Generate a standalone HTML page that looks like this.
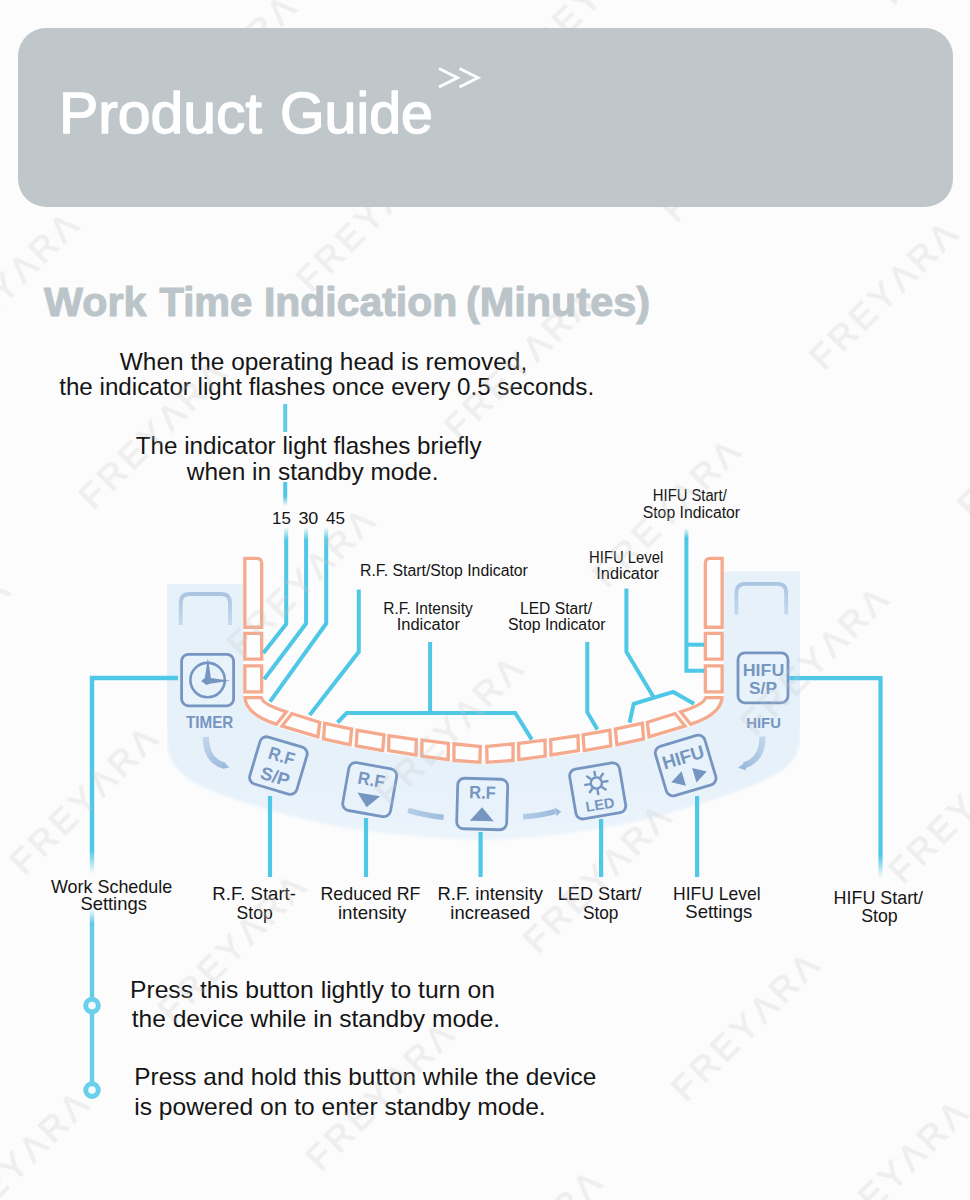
<!DOCTYPE html>
<html><head><meta charset="utf-8"><title>Product Guide</title>
<style>
html,body{margin:0;padding:0;background:#fcfcfc;}
svg{display:block}
text{font-family:"Liberation Sans",sans-serif;}
</style></head><body>
<svg width="970" height="1200" viewBox="0 0 970 1200">
<defs>
<filter id="blur" x="-10%" y="-10%" width="120%" height="120%"><feGaussianBlur stdDeviation="1.6"/></filter>
<clipPath id="pclip"><path d="M167,584 H253 V571.5 H800 V900 H167 Z"/></clipPath>
<linearGradient id="pg" gradientUnits="userSpaceOnUse" x1="0" y1="770" x2="0" y2="845"><stop offset="0" stop-color="#e6f1fa"/><stop offset="1" stop-color="#ecf4fb"/></linearGradient>
<clipPath id="b1"><path d="M243.2,556.8 H256.8 Q263.3,556.8 263.3,563.3 V628.9 H243.2 Z"/></clipPath>
<clipPath id="b2"><path d="M243.2,631.7 H263.3 V660.8 H243.2 Z"/></clipPath>
<clipPath id="b3"><path d="M243.2,664.3 H263.3 V693.6 H243.2 Z"/></clipPath>
<clipPath id="b4"><path d="M723.8,556.8 H710.2 Q703.7,556.8 703.7,563.3 V628.9 H723.8 Z"/></clipPath>
<clipPath id="b5"><path d="M703.7,631.7 H723.8 V660.8 H703.7 Z"/></clipPath>
<clipPath id="b6"><path d="M703.7,664.3 H723.8 V693.6 H703.7 Z"/></clipPath>
<clipPath id="b7"><path d="M243.2,696.0 L261.8,696.0 L263.3,697.5 Q263.3,703.0 289.1,711.0 L276.9,726.2 Q243.2,715.5 243.2,696.0 Z"/></clipPath>
<clipPath id="b8"><path d="M723.8,696.0 L705.2,696.0 L703.7,697.5 Q703.7,703.0 677.9,711.0 L690.1,726.2 Q723.8,715.5 723.8,696.0 Z"/></clipPath>
<clipPath id="b9"><path d="M291.3,711.7 L321.5,721.2 L319.3,739.0 L279.2,727.0 Z"/></clipPath>
<clipPath id="b10"><path d="M675.7,711.7 L645.5,721.2 L647.7,739.0 L687.8,727.0 Z"/></clipPath>
<clipPath id="b11"><path d="M323.1,721.2 L353.5,727.8 L351.5,746.8 L321.8,740.2 Z"/></clipPath>
<clipPath id="b12"><path d="M643.9,721.2 L613.5,727.8 L615.5,746.8 L645.2,740.2 Z"/></clipPath>
<clipPath id="b13"><path d="M355.6,728.2 L385.8,733.6 L384.2,752.6 L354.5,747.3 Z"/></clipPath>
<clipPath id="b14"><path d="M611.4,728.2 L581.2,733.6 L582.8,752.6 L612.5,747.3 Z"/></clipPath>
<clipPath id="b15"><path d="M387.4,733.8 L418.0,738.3 L417.6,756.9 L386.9,752.0 Z"/></clipPath>
<clipPath id="b16"><path d="M579.6,733.8 L549.0,738.3 L549.4,756.9 L580.1,752.0 Z"/></clipPath>
<clipPath id="b17"><path d="M420.4,738.3 L450.1,742.1 L449.8,761.4 L420.1,757.4 Z"/></clipPath>
<clipPath id="b18"><path d="M546.6,738.3 L516.9,742.1 L517.2,761.4 L546.9,757.4 Z"/></clipPath>
<clipPath id="b19"><path d="M452.3,742.1 L482.0,744.9 L481.5,764.0 L452.3,761.9 Z"/></clipPath>
<clipPath id="b20"><path d="M514.7,742.1 L485.0,744.9 L485.5,764.0 L514.7,761.9 Z"/></clipPath>
<linearGradient id="g1" gradientUnits="userSpaceOnUse" x1="0" y1="482" x2="0" y2="506"><stop offset="0" stop-color="#4fc7e6" stop-opacity="1"/><stop offset="0.6" stop-color="#4fc7e6" stop-opacity="1"/><stop offset="1" stop-color="#4fc7e6" stop-opacity="0"/></linearGradient>
<linearGradient id="g2" gradientUnits="userSpaceOnUse" x1="0" y1="527" x2="0" y2="540"><stop offset="0" stop-color="#4fc7e6" stop-opacity="0"/><stop offset="1" stop-color="#4fc7e6" stop-opacity="1"/></linearGradient>
<linearGradient id="g3" gradientUnits="userSpaceOnUse" x1="0" y1="528" x2="0" y2="538"><stop offset="0" stop-color="#4fc7e6" stop-opacity="0"/><stop offset="1" stop-color="#4fc7e6" stop-opacity="1"/></linearGradient>
<linearGradient id="g4" gradientUnits="userSpaceOnUse" x1="0" y1="850" x2="0" y2="874"><stop offset="0" stop-color="#4fc7e6" stop-opacity="1"/><stop offset="1" stop-color="#4fc7e6" stop-opacity="0"/></linearGradient>
<linearGradient id="g5" gradientUnits="userSpaceOnUse" x1="0" y1="908" x2="0" y2="925"><stop offset="0" stop-color="#4fc7e6" stop-opacity="0"/><stop offset="1" stop-color="#4fc7e6" stop-opacity="1"/></linearGradient>
<linearGradient id="g6" gradientUnits="userSpaceOnUse" x1="0" y1="855" x2="0" y2="878"><stop offset="0" stop-color="#4fc7e6" stop-opacity="1"/><stop offset="1" stop-color="#4fc7e6" stop-opacity="0"/></linearGradient>
<linearGradient id="gb1" gradientUnits="userSpaceOnUse" x1="0" y1="592" x2="0" y2="626"><stop offset="0" stop-color="#a9c4e1" stop-opacity="1"/><stop offset="1" stop-color="#c6d9ed" stop-opacity="1"/></linearGradient>
<linearGradient id="gb2" gradientUnits="userSpaceOnUse" x1="0" y1="582" x2="0" y2="616"><stop offset="0" stop-color="#a9c4e1" stop-opacity="1"/><stop offset="1" stop-color="#c6d9ed" stop-opacity="1"/></linearGradient>
<linearGradient id="ga1" gradientUnits="userSpaceOnUse" x1="206" y1="736" x2="228" y2="767"><stop offset="0" stop-color="#bdd3ea" stop-opacity="0.9"/><stop offset="1" stop-color="#9bbadc" stop-opacity="1"/></linearGradient>
<linearGradient id="ga2" gradientUnits="userSpaceOnUse" x1="762" y1="736" x2="738" y2="768"><stop offset="0" stop-color="#bdd3ea" stop-opacity="0.9"/><stop offset="1" stop-color="#9bbadc" stop-opacity="1"/></linearGradient>
<linearGradient id="ga3" gradientUnits="userSpaceOnUse" x1="408" y1="810" x2="444" y2="817"><stop offset="0" stop-color="#b4cce8" stop-opacity="1"/><stop offset="1" stop-color="#a0bede" stop-opacity="1"/></linearGradient>
<linearGradient id="ga4" gradientUnits="userSpaceOnUse" x1="523" y1="817" x2="560" y2="811"><stop offset="0" stop-color="#b4cce8" stop-opacity="1"/><stop offset="1" stop-color="#98b8db" stop-opacity="1"/></linearGradient>
</defs>
<rect width="970" height="1200" fill="#fcfcfc"/>
<text x="44.00" y="316.2" font-size="40.5" fill="#bbc5c9" font-weight="bold" textLength="102.51" lengthAdjust="spacingAndGlyphs" stroke="#bbc5c9" stroke-width="1.1" stroke-linejoin="round">Work</text>
<text x="159.40" y="316.2" font-size="40.5" fill="#bbc5c9" font-weight="bold" textLength="92.92" lengthAdjust="spacingAndGlyphs" stroke="#bbc5c9" stroke-width="1.1" stroke-linejoin="round">Time</text>
<text x="263.98" y="316.2" font-size="40.5" fill="#bbc5c9" font-weight="bold" textLength="193.28" lengthAdjust="spacingAndGlyphs" stroke="#bbc5c9" stroke-width="1.1" stroke-linejoin="round">Indication</text>
<text x="465.95" y="316.2" font-size="40.5" fill="#bbc5c9" font-weight="bold" textLength="184.17" lengthAdjust="spacingAndGlyphs" stroke="#bbc5c9" stroke-width="1.1" stroke-linejoin="round">(Minutes)</text>
<text x="119.80" y="369.6" font-size="24.2" fill="#151515" textLength="407.44" lengthAdjust="spacingAndGlyphs">When the operating head is removed,</text>
<text x="59.20" y="395" font-size="24.2" fill="#151515" textLength="534.92" lengthAdjust="spacingAndGlyphs">the indicator light flashes once every 0.5 seconds.</text>
<text x="135.70" y="454" font-size="24.2" fill="#151515" textLength="345.89" lengthAdjust="spacingAndGlyphs">The indicator light flashes briefly</text>
<text x="186.81" y="479.5" font-size="24.2" fill="#151515" textLength="251.63" lengthAdjust="spacingAndGlyphs">when in standby mode.</text>
<text x="271.99" y="524" font-size="16.8" fill="#151515" textLength="18.85" lengthAdjust="spacingAndGlyphs">15</text>
<text x="298.40" y="524" font-size="16.8" fill="#151515" textLength="19.96" lengthAdjust="spacingAndGlyphs">30</text>
<text x="325.90" y="524" font-size="16.8" fill="#151515" textLength="19.04" lengthAdjust="spacingAndGlyphs">45</text>
<g clip-path="url(#pclip)"><path d="M100,500 H870 V728 L800,728 C800.0,729.7 800.4,735.1 800.3,738.0 C800.2,740.9 800.2,742.4 799.4,745.4 C798.6,748.4 797.7,751.9 795.3,755.7 C792.9,759.5 790.2,763.9 785.0,768.0 C779.8,772.1 771.2,776.9 764.3,780.4 C757.4,783.9 750.6,786.1 743.7,788.7 C736.8,791.3 730.0,793.5 723.1,795.9 C716.2,798.3 709.4,800.9 702.5,803.1 C695.6,805.3 688.8,807.2 681.9,809.3 C675.0,811.4 668.1,813.6 661.2,815.5 C654.3,817.4 647.5,819.1 640.6,820.6 C633.7,822.1 630.1,822.9 620.0,824.7 C609.9,826.5 595.0,829.4 580.0,831.5 C565.0,833.6 546.1,836.1 530.0,837.5 C513.9,838.9 498.5,839.9 483.5,840.0 C468.5,840.1 454.8,839.0 440.0,838.0 C425.2,837.0 410.0,835.5 395.0,834.0 C380.0,832.5 363.3,831.1 350.0,829.0 C336.7,826.9 324.3,823.7 315.0,821.6 C305.7,819.5 301.2,818.2 294.3,816.5 C287.4,814.8 280.6,813.2 273.7,811.3 C266.8,809.4 260.0,807.3 253.1,805.2 C246.2,803.1 239.4,801.0 232.5,798.6 C225.6,796.2 218.8,793.7 211.9,790.7 C205.0,787.7 196.3,783.5 191.2,780.4 C186.0,777.3 184.1,775.3 181.0,772.2 C177.9,769.1 174.8,765.4 172.7,761.9 C170.6,758.4 169.5,755.0 168.6,751.5 C167.7,748.0 167.3,744.9 167.0,741.0 C166.7,737.1 167.0,730.2 167.0,728.0 L100,728 Z" fill="url(#pg)" filter="url(#blur)"/></g>
<path d="M253.2,548 V696 Q253.2,709 283,718.6 L320.4,730.1 L352.5,737.3 L385.0,743.1 L417.8,747.6 L450.0,751.8 L483.5,754.5 L517.0,751.8 L549.2,747.6 L582.0,743.1 L614.5,737.3 L646.6,730.1 L684.0,718.6 Q713.8,709 713.8,696 V548 Z" fill="#fcfcfc"/>
<path d="M253.2,548 V696 Q253.2,709 283,718.6 L320.4,730.1 L352.5,737.3 L385.0,743.1 L417.8,747.6 L450.0,751.8 L483.5,754.5 L517.0,751.8 L549.2,747.6 L582.0,743.1 L614.5,737.3 L646.6,730.1 L684.0,718.6 Q713.8,709 713.8,696 V548" fill="none" stroke="#fdfdfd" stroke-width="19.5" stroke-linejoin="round"/>
<path d="M243.2,556.8 H256.8 Q263.3,556.8 263.3,563.3 V628.9 H243.2 Z" fill="#fefefe" stroke="#f5a98d" stroke-width="6.6" clip-path="url(#b1)"/>
<path d="M243.2,631.7 H263.3 V660.8 H243.2 Z" fill="#fefefe" stroke="#f5a98d" stroke-width="6.6" clip-path="url(#b2)"/>
<path d="M243.2,664.3 H263.3 V693.6 H243.2 Z" fill="#fefefe" stroke="#f5a98d" stroke-width="6.6" clip-path="url(#b3)"/>
<path d="M723.8,556.8 H710.2 Q703.7,556.8 703.7,563.3 V628.9 H723.8 Z" fill="#fefefe" stroke="#f5a98d" stroke-width="6.6" clip-path="url(#b4)"/>
<path d="M703.7,631.7 H723.8 V660.8 H703.7 Z" fill="#fefefe" stroke="#f5a98d" stroke-width="6.6" clip-path="url(#b5)"/>
<path d="M703.7,664.3 H723.8 V693.6 H703.7 Z" fill="#fefefe" stroke="#f5a98d" stroke-width="6.6" clip-path="url(#b6)"/>
<path d="M243.2,696.0 L261.8,696.0 L263.3,697.5 Q263.3,703.0 289.1,711.0 L276.9,726.2 Q243.2,715.5 243.2,696.0 Z" fill="#fefefe" stroke="#f5a98d" stroke-width="6.6" clip-path="url(#b7)"/>
<path d="M723.8,696.0 L705.2,696.0 L703.7,697.5 Q703.7,703.0 677.9,711.0 L690.1,726.2 Q723.8,715.5 723.8,696.0 Z" fill="#fefefe" stroke="#f5a98d" stroke-width="6.6" clip-path="url(#b8)"/>
<path d="M291.3,711.7 L321.5,721.2 L319.3,739.0 L279.2,727.0 Z" fill="#fefefe" stroke="#f5a98d" stroke-width="6.6" clip-path="url(#b9)"/>
<path d="M675.7,711.7 L645.5,721.2 L647.7,739.0 L687.8,727.0 Z" fill="#fefefe" stroke="#f5a98d" stroke-width="6.6" clip-path="url(#b10)"/>
<path d="M323.1,721.2 L353.5,727.8 L351.5,746.8 L321.8,740.2 Z" fill="#fefefe" stroke="#f5a98d" stroke-width="6.6" clip-path="url(#b11)"/>
<path d="M643.9,721.2 L613.5,727.8 L615.5,746.8 L645.2,740.2 Z" fill="#fefefe" stroke="#f5a98d" stroke-width="6.6" clip-path="url(#b12)"/>
<path d="M355.6,728.2 L385.8,733.6 L384.2,752.6 L354.5,747.3 Z" fill="#fefefe" stroke="#f5a98d" stroke-width="6.6" clip-path="url(#b13)"/>
<path d="M611.4,728.2 L581.2,733.6 L582.8,752.6 L612.5,747.3 Z" fill="#fefefe" stroke="#f5a98d" stroke-width="6.6" clip-path="url(#b14)"/>
<path d="M387.4,733.8 L418.0,738.3 L417.6,756.9 L386.9,752.0 Z" fill="#fefefe" stroke="#f5a98d" stroke-width="6.6" clip-path="url(#b15)"/>
<path d="M579.6,733.8 L549.0,738.3 L549.4,756.9 L580.1,752.0 Z" fill="#fefefe" stroke="#f5a98d" stroke-width="6.6" clip-path="url(#b16)"/>
<path d="M420.4,738.3 L450.1,742.1 L449.8,761.4 L420.1,757.4 Z" fill="#fefefe" stroke="#f5a98d" stroke-width="6.6" clip-path="url(#b17)"/>
<path d="M546.6,738.3 L516.9,742.1 L517.2,761.4 L546.9,757.4 Z" fill="#fefefe" stroke="#f5a98d" stroke-width="6.6" clip-path="url(#b18)"/>
<path d="M452.3,742.1 L482.0,744.9 L481.5,764.0 L452.3,761.9 Z" fill="#fefefe" stroke="#f5a98d" stroke-width="6.6" clip-path="url(#b19)"/>
<path d="M514.7,742.1 L485.0,744.9 L485.5,764.0 L514.7,761.9 Z" fill="#fefefe" stroke="#f5a98d" stroke-width="6.6" clip-path="url(#b20)"/>
<path d="M285.2,404 L285.2,432" fill="none" stroke="#5fcce9" stroke-width="4" stroke-linejoin="miter"/>
<rect x="283.2" y="482" width="4" height="24" fill="url(#g1)"/>
<rect x="284.2" y="527" width="4" height="14" fill="url(#g2)"/>
<rect x="304.1" y="527" width="4" height="14" fill="url(#g2)"/>
<rect x="324.2" y="527" width="4" height="14" fill="url(#g2)"/>
<path d="M286.2,540 L286.2,624 L263.4,653" fill="none" stroke="#4fc7e6" stroke-width="4" stroke-linejoin="miter"/>
<path d="M306.1,540 L306.1,623.5 L264.2,679.2" fill="none" stroke="#4fc7e6" stroke-width="4" stroke-linejoin="miter"/>
<path d="M326.2,540 L326.2,623.5 L270,701.7" fill="none" stroke="#4fc7e6" stroke-width="4" stroke-linejoin="miter"/>
<path d="M358.8,589.5 L358.8,651.7 L309.7,715" fill="none" stroke="#4fc7e6" stroke-width="4" stroke-linejoin="miter"/>
<path d="M430.1,642 L430.1,713" fill="none" stroke="#4fc7e6" stroke-width="4" stroke-linejoin="miter"/>
<path d="M337.5,722.5 L346.7,713 L515.3,713 L531.8,739.6" fill="none" stroke="#4fc7e6" stroke-width="4" stroke-linejoin="miter"/>
<path d="M587.3,642 L587.3,712.2 L597.4,729.5" fill="none" stroke="#4fc7e6" stroke-width="4" stroke-linejoin="miter"/>
<path d="M626.4,588.5 L626.4,651.8 L653.5,697" fill="none" stroke="#4fc7e6" stroke-width="4" stroke-linejoin="miter"/>
<path d="M629.6,722.7 L633.7,703.8 L673.3,691.9 L694,703.8" fill="none" stroke="#4fc7e6" stroke-width="4" stroke-linejoin="miter"/>
<rect x="684.4" y="528" width="4" height="11" fill="url(#g3)"/>
<path d="M686.4,538 L686.4,670.8 L704,670.8" fill="none" stroke="#4fc7e6" stroke-width="4" stroke-linejoin="miter"/>
<path d="M686.4,644.7 L704,644.7" fill="none" stroke="#4fc7e6" stroke-width="4" stroke-linejoin="miter"/>
<path d="M178,678 L92,678 L92,851" fill="none" stroke="#4fc7e6" stroke-width="4.4" stroke-linejoin="miter"/>
<rect x="89.8" y="850" width="4.4" height="24" fill="url(#g4)"/>
<rect x="89.8" y="908" width="4.4" height="18" fill="url(#g5)"/>
<path d="M92,925 L92,998" fill="none" stroke="#62cde9" stroke-width="4.4" stroke-linejoin="miter"/>
<path d="M92,1013 L92,1082" fill="none" stroke="#68cfea" stroke-width="4.4" stroke-linejoin="miter"/>
<path d="M270,796 L270,877" fill="none" stroke="#4fc7e6" stroke-width="4.2" stroke-linejoin="miter"/>
<path d="M366,818 L366,877" fill="none" stroke="#4fc7e6" stroke-width="4.2" stroke-linejoin="miter"/>
<path d="M480.6,832 L480.6,877" fill="none" stroke="#4fc7e6" stroke-width="4.2" stroke-linejoin="miter"/>
<path d="M601.1,819 L601.1,877" fill="none" stroke="#4fc7e6" stroke-width="4.2" stroke-linejoin="miter"/>
<path d="M697.1,796 L697.1,877" fill="none" stroke="#4fc7e6" stroke-width="4.2" stroke-linejoin="miter"/>
<path d="M789.5,678.2 L880.5,678.2 L880.5,856" fill="none" stroke="#4fc7e6" stroke-width="4.2" stroke-linejoin="miter"/>
<rect x="878.4" y="855" width="4.2" height="23" fill="url(#g6)"/>
<circle cx="92" cy="1005.6" r="6.3" fill="#f4fafd" stroke="#69cfea" stroke-width="5"/>
<circle cx="92" cy="1090.1" r="6.3" fill="#f4fafd" stroke="#69cfea" stroke-width="5"/>
<path d="M180.7,625 V603 Q180.7,594 189.7,594 H221 Q230,594 230,603 V625" fill="none" stroke="url(#gb1)" stroke-width="3.8"/>
<path d="M736.4,614.5 V592.8 Q736.4,583.8 745.4,583.8 H777.2 Q786.2,583.8 786.2,592.8 V614.5" fill="none" stroke="url(#gb2)" stroke-width="3.8"/>
<g transform="translate(207.6,680.1) rotate(0)">
<rect x="-26.0" y="-25.75" width="52" height="51.5" rx="6.8" fill="#e8f2fb" stroke="#7696c1" stroke-width="2.8"/>
<circle cx="0" cy="0" r="17.2" fill="none" stroke="#7696c1" stroke-width="2.6"/><path d="M0.3,-22 L3.3,-2.2 L22.5,0.6 L2.2,3.6 L-1.2,5 L-6.5,0.8 L-2.8,-2 Z" fill="#7696c1"/>
</g>
<text x="209.7" y="727.7" font-size="16.3" fill="#7696c1" text-anchor="middle" font-weight="bold" textLength="47.3" lengthAdjust="spacingAndGlyphs">TIMER</text>
<g transform="translate(278.4,765.6) rotate(16.6)">
<rect x="-24.5" y="-24.5" width="49" height="49" rx="6.8" fill="#e8f2fb" stroke="#7696c1" stroke-width="2.8"/>
<text x="0.5" y="-3.8" font-size="18" fill="#7696c1" text-anchor="middle" font-weight="bold" textLength="26.5" lengthAdjust="spacingAndGlyphs">R.F</text><text x="0" y="17.6" font-size="18" fill="#7696c1" text-anchor="middle" font-weight="bold" textLength="29.5" lengthAdjust="spacingAndGlyphs">S/P</text>
</g>
<g transform="translate(369.7,789.65) rotate(10)">
<rect x="-24.25" y="-24.25" width="48.5" height="48.5" rx="6.8" fill="#e8f2fb" stroke="#7696c1" stroke-width="2.8"/>
<text x="0" y="-3.8" font-size="18" fill="#7696c1" text-anchor="middle" font-weight="bold" textLength="27" lengthAdjust="spacingAndGlyphs">R.F</text><path d="M-11.5,4.8 H11.5 L0,17.8 Z" fill="#7696c1"/>
</g>
<g transform="translate(482.2,804.0) rotate(1.6)">
<rect x="-25.0" y="-25.25" width="50" height="50.5" rx="6.8" fill="#e8f2fb" stroke="#7696c1" stroke-width="2.8"/>
<text x="0" y="-5.3" font-size="18" fill="#7696c1" text-anchor="middle" font-weight="bold" textLength="26.6" lengthAdjust="spacingAndGlyphs">R.F</text><path d="M-12,17 H12 L0,3.3 Z" fill="#7696c1"/>
</g>
<g transform="translate(597.7,790.9) rotate(-9.6)">
<rect x="-25.25" y="-25.25" width="50.5" height="50.5" rx="6.8" fill="#e8f2fb" stroke="#7696c1" stroke-width="2.8"/>
<g transform="translate(0,-8)" stroke="#7696c1" stroke-width="2.4" fill="none"><circle r="5.6"/><path d="M6.50,0.00 L12.30,0.00"/><path d="M4.60,4.60 L8.70,8.70"/><path d="M0.00,6.50 L0.00,12.30"/><path d="M-4.60,4.60 L-8.70,8.70"/><path d="M-6.50,0.00 L-12.30,0.00"/><path d="M-4.60,-4.60 L-8.70,-8.70"/><path d="M-0.00,-6.50 L-0.00,-12.30"/><path d="M4.60,-4.60 L8.70,-8.70"/></g><text x="0" y="19" font-size="14.5" fill="#7696c1" text-anchor="middle" font-weight="bold" textLength="29" lengthAdjust="spacingAndGlyphs">LED</text>
</g>
<g transform="translate(685.65,765.55) rotate(-16.6)">
<rect x="-25.75" y="-25.75" width="51.5" height="51.5" rx="6.8" fill="#e8f2fb" stroke="#7696c1" stroke-width="2.8"/>
<text x="0" y="-2.3" font-size="18.6" fill="#7696c1" text-anchor="middle" font-weight="bold" textLength="43" lengthAdjust="spacingAndGlyphs">HIFU</text><path d="M-18.5,11.8 L-5.5,4.2 V19.4 Z M18.5,11.8 L5.5,4.2 V19.4 Z" fill="#7696c1"/>
</g>
<g transform="translate(763,677.8) rotate(0)">
<rect x="-25.0" y="-25.0" width="50" height="50" rx="6.8" fill="#e8f2fb" stroke="#7696c1" stroke-width="2.8"/>
<text x="0.5" y="-1.8" font-size="17.3" fill="#7696c1" text-anchor="middle" font-weight="bold" textLength="41.6" lengthAdjust="spacingAndGlyphs">HIFU</text><text x="0" y="16.4" font-size="17.3" fill="#7696c1" text-anchor="middle" font-weight="bold" textLength="28" lengthAdjust="spacingAndGlyphs">S/P</text>
</g>
<text x="763.6" y="728.4" font-size="15.3" fill="#7696c1" text-anchor="middle" font-weight="bold" textLength="34.8" lengthAdjust="spacingAndGlyphs">HIFU</text>
<path d="M205.8,737 C206,752 211,762.5 225,765.8" fill="none" stroke="url(#ga1)" stroke-width="6.2"/>
<path d="M223.5,762.2 L229.6,767.6 L222.6,768.8 Z" fill="#9bbadc"/>
<path d="M762.3,736.6 Q763,759 744,765.5" fill="none" stroke="url(#ga2)" stroke-width="6.2"/>
<path d="M746.5,761.5 L738,767.8 L746,770.3 Z" fill="#9bbadc"/>
<path d="M408.1,810.4 Q425,815.5 443.7,817.3" fill="none" stroke="url(#ga3)" stroke-width="5.6"/>
<path d="M523.1,816.8 Q541,815.5 555,811.6" fill="none" stroke="url(#ga4)" stroke-width="5.6"/>
<path d="M554.2,807.4 L561.2,811.2 L556.8,816.3 Z" fill="#9bbadc"/>
<text x="359.99" y="575.7" font-size="15.6" fill="#151515" textLength="167.91" lengthAdjust="spacingAndGlyphs">R.F. Start/Stop Indicator</text>
<text x="383.21" y="614.3" font-size="15.6" fill="#151515" textLength="89.59" lengthAdjust="spacingAndGlyphs">R.F. Intensity</text>
<text x="396.74" y="630.4" font-size="15.6" fill="#151515" textLength="63.16" lengthAdjust="spacingAndGlyphs">Indicator</text>
<text x="520.00" y="614.3" font-size="15.6" fill="#151515" textLength="72.03" lengthAdjust="spacingAndGlyphs">LED Start/</text>
<text x="508.00" y="630.4" font-size="15.6" fill="#151515" textLength="97.60" lengthAdjust="spacingAndGlyphs">Stop Indicator</text>
<text x="589.05" y="563.1" font-size="15.6" fill="#151515" textLength="74.19" lengthAdjust="spacingAndGlyphs">HIFU Level</text>
<text x="596.35" y="578.6" font-size="15.6" fill="#151515" textLength="62.55" lengthAdjust="spacingAndGlyphs">Indicator</text>
<text x="652.85" y="501.3" font-size="15.6" fill="#151515" textLength="73.92" lengthAdjust="spacingAndGlyphs">HIFU Start/</text>
<text x="642.70" y="517.5" font-size="15.6" fill="#151515" textLength="97.40" lengthAdjust="spacingAndGlyphs">Stop Indicator</text>
<text x="51.00" y="892.5" font-size="17.8" fill="#151515" textLength="121.19" lengthAdjust="spacingAndGlyphs">Work Schedule</text>
<text x="80.40" y="910" font-size="17.8" fill="#151515" textLength="66.49" lengthAdjust="spacingAndGlyphs">Settings</text>
<text x="212.36" y="900.2" font-size="17.8" fill="#151515" textLength="83.56" lengthAdjust="spacingAndGlyphs">R.F. Start-</text>
<text x="236.60" y="918.8" font-size="17.8" fill="#151515" textLength="36.09" lengthAdjust="spacingAndGlyphs">Stop</text>
<text x="320.50" y="900" font-size="17.8" fill="#151515" textLength="99.96" lengthAdjust="spacingAndGlyphs">Reduced RF</text>
<text x="337.95" y="918.6" font-size="17.8" fill="#151515" textLength="68.43" lengthAdjust="spacingAndGlyphs">intensity</text>
<text x="437.46" y="900" font-size="17.8" fill="#151515" textLength="105.52" lengthAdjust="spacingAndGlyphs">R.F. intensity</text>
<text x="450.36" y="918.6" font-size="17.8" fill="#151515" textLength="79.96" lengthAdjust="spacingAndGlyphs">increased</text>
<text x="557.68" y="900" font-size="17.8" fill="#151515" textLength="83.76" lengthAdjust="spacingAndGlyphs">LED Start/</text>
<text x="582.90" y="918.6" font-size="17.8" fill="#151515" textLength="35.49" lengthAdjust="spacingAndGlyphs">Stop</text>
<text x="673.01" y="900.2" font-size="17.8" fill="#151515" textLength="87.72" lengthAdjust="spacingAndGlyphs">HIFU Level</text>
<text x="685.30" y="917.8" font-size="17.8" fill="#151515" textLength="66.89" lengthAdjust="spacingAndGlyphs">Settings</text>
<text x="833.59" y="904.2" font-size="17.8" fill="#151515" textLength="89.45" lengthAdjust="spacingAndGlyphs">HIFU Start/</text>
<text x="861.20" y="922.3" font-size="17.8" fill="#151515" textLength="36.59" lengthAdjust="spacingAndGlyphs">Stop</text>
<text x="129.97" y="997.7" font-size="24" fill="#151515" textLength="364.91" lengthAdjust="spacingAndGlyphs">Press this button lightly to turn on</text>
<text x="131.70" y="1027.4" font-size="24" fill="#151515" textLength="368.51" lengthAdjust="spacingAndGlyphs">the device while in standby mode.</text>
<text x="134.28" y="1085.3" font-size="24" fill="#151515" textLength="461.97" lengthAdjust="spacingAndGlyphs">Press and hold this button while the device</text>
<text x="134.28" y="1114.9" font-size="24" fill="#151515" textLength="411.43" lengthAdjust="spacingAndGlyphs">is powered on to enter standby mode.</text>
<g font-size="35" fill="#c8c8c8" stroke="#c8c8c8" stroke-width="1.1" opacity="0.25"><text transform="translate(-192.79999999999993,1094.0) rotate(-45)" textLength="191" lengthAdjust="spacing">FREYΛRΛ</text><text transform="translate(-44.69999999999993,1242.0) rotate(-45)" textLength="191" lengthAdjust="spacing">FREYΛRΛ</text><text transform="translate(103.40000000000006,1390.0) rotate(-45)" textLength="191" lengthAdjust="spacing">FREYΛRΛ</text><text transform="translate(-123.69999999999987,728.4000000000001) rotate(-45)" textLength="191" lengthAdjust="spacing">FREYΛRΛ</text><text transform="translate(24.40000000000012,876.4000000000001) rotate(-45)" textLength="191" lengthAdjust="spacing">FREYΛRΛ</text><text transform="translate(172.5000000000001,1024.4) rotate(-45)" textLength="191" lengthAdjust="spacing">FREYΛRΛ</text><text transform="translate(320.60000000000014,1172.4) rotate(-45)" textLength="191" lengthAdjust="spacing">FREYΛRΛ</text><text transform="translate(468.7000000000001,1320.4) rotate(-45)" textLength="191" lengthAdjust="spacing">FREYΛRΛ</text><text transform="translate(-54.59999999999991,362.79999999999995) rotate(-45)" textLength="191" lengthAdjust="spacing">FREYΛRΛ</text><text transform="translate(93.50000000000006,510.79999999999995) rotate(-45)" textLength="191" lengthAdjust="spacing">FREYΛRΛ</text><text transform="translate(241.60000000000005,658.8) rotate(-45)" textLength="191" lengthAdjust="spacing">FREYΛRΛ</text><text transform="translate(389.70000000000005,806.8) rotate(-45)" textLength="191" lengthAdjust="spacing">FREYΛRΛ</text><text transform="translate(537.8000000000001,954.8) rotate(-45)" textLength="191" lengthAdjust="spacing">FREYΛRΛ</text><text transform="translate(685.9000000000001,1102.8) rotate(-45)" textLength="191" lengthAdjust="spacing">FREYΛRΛ</text><text transform="translate(834.0,1250.8) rotate(-45)" textLength="191" lengthAdjust="spacing">FREYΛRΛ</text><text transform="translate(982.1,1398.8) rotate(-45)" textLength="191" lengthAdjust="spacing">FREYΛRΛ</text><text transform="translate(14.500000000000114,-2.7999999999999545) rotate(-45)" textLength="191" lengthAdjust="spacing">FREYΛRΛ</text><text transform="translate(162.60000000000014,145.20000000000005) rotate(-45)" textLength="191" lengthAdjust="spacing">FREYΛRΛ</text><text transform="translate(310.7000000000001,293.20000000000005) rotate(-45)" textLength="191" lengthAdjust="spacing">FREYΛRΛ</text><text transform="translate(458.80000000000007,441.20000000000005) rotate(-45)" textLength="191" lengthAdjust="spacing">FREYΛRΛ</text><text transform="translate(606.9000000000001,589.2) rotate(-45)" textLength="191" lengthAdjust="spacing">FREYΛRΛ</text><text transform="translate(755.0000000000001,737.2) rotate(-45)" textLength="191" lengthAdjust="spacing">FREYΛRΛ</text><text transform="translate(903.1000000000001,885.2) rotate(-45)" textLength="191" lengthAdjust="spacing">FREYΛRΛ</text><text transform="translate(1051.2,1033.2) rotate(-45)" textLength="191" lengthAdjust="spacing">FREYΛRΛ</text><text transform="translate(379.80000000000007,-72.39999999999998) rotate(-45)" textLength="191" lengthAdjust="spacing">FREYΛRΛ</text><text transform="translate(527.9000000000001,75.60000000000002) rotate(-45)" textLength="191" lengthAdjust="spacing">FREYΛRΛ</text><text transform="translate(676.0,223.60000000000002) rotate(-45)" textLength="191" lengthAdjust="spacing">FREYΛRΛ</text><text transform="translate(824.1,371.6) rotate(-45)" textLength="191" lengthAdjust="spacing">FREYΛRΛ</text><text transform="translate(972.2,519.6) rotate(-45)" textLength="191" lengthAdjust="spacing">FREYΛRΛ</text><text transform="translate(893.1999999999999,6.000000000000028) rotate(-45)" textLength="191" lengthAdjust="spacing">FREYΛRΛ</text><text transform="translate(1041.3,154.00000000000003) rotate(-45)" textLength="191" lengthAdjust="spacing">FREYΛRΛ</text></g>
<rect x="18" y="28" width="935" height="179" rx="28" fill="#bfc7ca"/>
<text x="58.90" y="133" font-size="57.5" fill="#fff" textLength="203.07" lengthAdjust="spacingAndGlyphs" stroke="#fff" stroke-width="1.4" stroke-linejoin="round">Product</text>
<text x="280.01" y="133" font-size="57.5" fill="#fff" textLength="152.97" lengthAdjust="spacingAndGlyphs" stroke="#fff" stroke-width="1.4" stroke-linejoin="round">Guide</text>
<path d="M439,68.5 L457.5,77.7 L439,87 M459.5,68.5 L478,77.7 L459.5,87" fill="none" stroke="#fff" stroke-width="2.9"/>
</svg>
</body></html>
